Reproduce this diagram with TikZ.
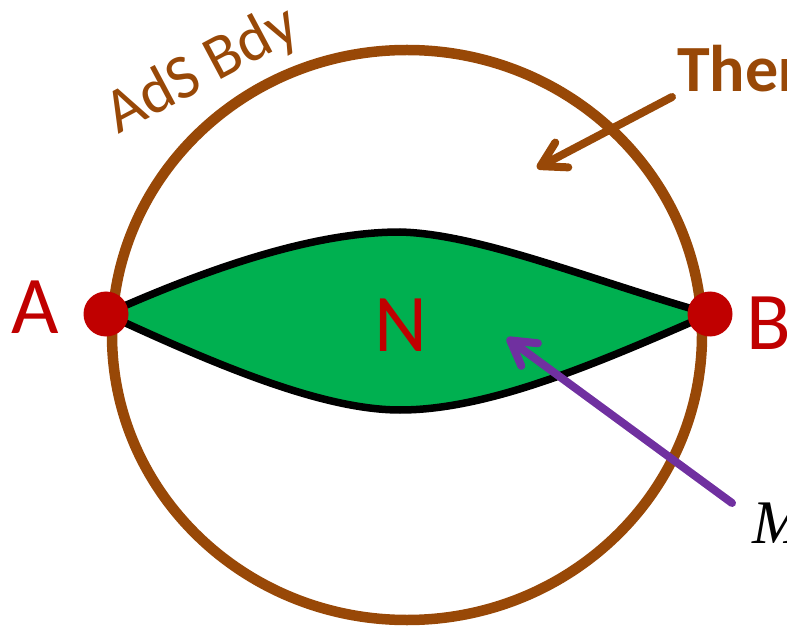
\documentclass[tikz,border=0pt]{standalone}
\usepackage{fontspec}
\setmainfont{Carlito}
\newfontfamily\timesit{Liberation Serif}
\usetikzlibrary{arrows.meta}
\definecolor{bdybrown}{HTML}{984807}
\definecolor{ptred}{HTML}{C00000}
\definecolor{lensgreen}{HTML}{00B050}
\definecolor{arrpurple}{HTML}{7030A0}
\newcommand{\fsz}[1]{\fontsize{#1}{#1}\selectfont}

\begin{document}
\begin{tikzpicture}[x=1pt, y=-1pt,
  every node/.style={inner sep=0pt},
  endpt/.style={circle, fill=ptred, minimum size=45pt},
  ptlab/.style={text=ptred, font=\fsz{82}, anchor=base},
  barb/.style={-{Straight Barb[length=24pt, width=28pt, round]},
    line width=8pt, line cap=round}]
\useasboundingbox (0,0) rectangle (787,628);
% end points on the boundary
\coordinate (a) at (106,314);
\coordinate (b) at (710,314);
% AdS boundary
\draw[bdybrown, line width=10.5pt] (407,335) ellipse [x radius=295, y radius=285];
\node[text=bdybrown, font=\fsz{63}, rotate=28, anchor=base west] (bdylab) at (118,135) {AdS Bdy};
% the lens N
\draw[fill=lensgreen, line width=7.5pt, line join=round]
  (a) .. controls (220,263) and (320,232) .. (400,232)
      .. controls (480,234) and (590,280) .. (b)
      .. controls (600,362) and (490,410) .. (400,410)
      .. controls (320,410) and (210,362) .. cycle;
\node[ptlab] (labN) at (401,352) {N};
% points A and B
\node[endpt] (ptA) at (a) {};
\node[endpt] (ptB) at (b) {};
\node[ptlab] (labA) at (35,334) {A};
\node[ptlab] (labB) at (769,349) {B};
% thermal label and arrow
\node[text=bdybrown, font=\fsz{66}\bfseries, anchor=base west] (labTher) at (677,92) {Ther};
\coordinate (thtail) at (672,97);
\coordinate (thtip) at (537,168);
\draw[barb, bdybrown] (thtail) -- (thtip);
% M label and arrow
\node[font=\fsz{62}\timesit\itshape, anchor=base west] (labM) at (752,543) {M};
\coordinate (mtail) at (732,503);
\coordinate (mtip) at (507,338);
\draw[barb, arrpurple] (mtail) -- (mtip);
\end{tikzpicture}
\end{document}
